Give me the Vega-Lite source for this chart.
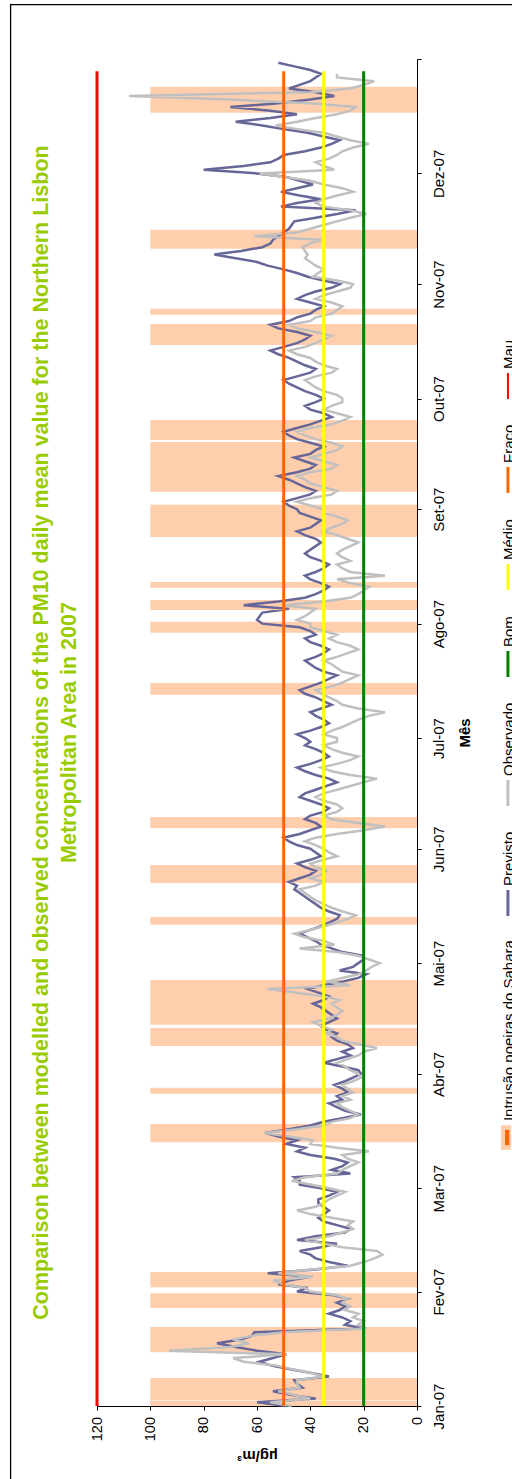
{
"$schema": "https://vega.github.io/schema/vega-lite/v6.json",
"width": 320, "height": 1347,
"autosize": {"type": "none"},
"padding": {"left": 97, "top": 59, "right": 95, "bottom": 73},
"background": "white",
"title": {"text": ["Comparison between modelled and observed concentrations of the PM10 daily mean value for the  Northern Lisbon", "Metropolitan Area in 2007"], "orient": "left", "anchor": "middle", "frame": "group", "offset": -71, "font": "Liberation Sans", "fontSize": 21.5, "fontWeight": "bold", "color": "#99cc00", "lineHeight": 28},
"config": {"view": {"stroke": null}},
"resolve": {"axis": {"x": "independent", "y": "independent"}},
"datasets": {
"sahara": [
{"start":"2007-01-01T00:00:00Z","end":"2007-01-02T10:00:00Z","intrusao":100},
{"start":"2007-01-02T14:00:00Z","end":"2007-01-08T14:00:00Z","intrusao":100},
{"start":"2007-01-15T14:00:00Z","end":"2007-01-22T10:00:00Z","intrusao":100},
{"start":"2007-01-27T14:00:00Z","end":"2007-01-31T14:00:00Z","intrusao":100},
{"start":"2007-02-02T05:00:00Z","end":"2007-02-06T07:00:00Z","intrusao":100},
{"start":"2007-03-13T12:00:00Z","end":"2007-03-18T10:00:00Z","intrusao":100},
{"start":"2007-03-26T14:00:00Z","end":"2007-03-28T05:00:00Z","intrusao":100},
{"start":"2007-04-08T14:00:00Z","end":"2007-04-13T10:00:00Z","intrusao":100},
{"start":"2007-04-14T07:00:00Z","end":"2007-04-26T10:00:00Z","intrusao":100},
{"start":"2007-05-11T10:00:00Z","end":"2007-05-13T12:00:00Z","intrusao":100},
{"start":"2007-05-22T17:00:00Z","end":"2007-05-27T14:00:00Z","intrusao":100},
{"start":"2007-06-06T14:00:00Z","end":"2007-06-09T14:00:00Z","intrusao":100},
{"start":"2007-07-12T17:00:00Z","end":"2007-07-15T22:00:00Z","intrusao":100},
{"start":"2007-07-29T12:00:00Z","end":"2007-08-01T12:00:00Z","intrusao":100},
{"start":"2007-08-04T17:00:00Z","end":"2007-08-07T10:00:00Z","intrusao":100},
{"start":"2007-08-10T17:00:00Z","end":"2007-08-12T07:00:00Z","intrusao":100},
{"start":"2007-08-24T12:00:00Z","end":"2007-09-02T05:00:00Z","intrusao":100},
{"start":"2007-09-05T17:00:00Z","end":"2007-09-19T05:00:00Z","intrusao":100},
{"start":"2007-09-19T19:00:00Z","end":"2007-09-25T05:00:00Z","intrusao":100},
{"start":"2007-10-15T12:00:00Z","end":"2007-10-21T05:00:00Z","intrusao":100},
{"start":"2007-10-23T17:00:00Z","end":"2007-10-25T07:00:00Z","intrusao":100},
{"start":"2007-11-10T14:00:00Z","end":"2007-11-15T17:00:00Z","intrusao":100},
{"start":"2007-12-17T10:00:00Z","end":"2007-12-24T12:00:00Z","intrusao":100}
],
"limiares": [
{"nivel":"Bom","valor":20,"inicio":"2007-01-01T00:00:00Z","fim":"2007-12-28T17:00:00Z"},
{"nivel":"Médio","valor":35,"inicio":"2007-01-01T00:00:00Z","fim":"2007-12-28T17:00:00Z"},
{"nivel":"Fraco","valor":50,"inicio":"2007-01-01T00:00:00Z","fim":"2007-12-28T17:00:00Z"},
{"nivel":"Mau","valor":120,"inicio":"2007-01-01T00:00:00Z","fim":"2007-12-28T17:00:00Z"}
],
"pm10": [
{"date":"2007-01-01","previsto":49,"observado":47},{"date":"2007-01-02","previsto":60,"observado":55},{"date":"2007-01-03","previsto":38,"observado":40},{"date":"2007-01-04","previsto":47,"observado":46},{"date":"2007-01-05","previsto":54,"observado":52},{"date":"2007-01-06","previsto":43,"observado":44},{"date":"2007-01-07","previsto":45,"observado":45},{"date":"2007-01-08","previsto":46,"observado":45},{"date":"2007-01-09","previsto":33,"observado":35},{"date":"2007-01-10","previsto":40,"observado":40},{"date":"2007-01-11","previsto":48,"observado":47},{"date":"2007-01-12","previsto":55,"observado":53},{"date":"2007-01-13","previsto":59,"observado":65},{"date":"2007-01-14","previsto":54,"observado":69},{"date":"2007-01-15","previsto":49,"observado":49},{"date":"2007-01-16","previsto":60,"observado":93},{"date":"2007-01-17","previsto":68,"observado":70},{"date":"2007-01-18","previsto":75,"observado":63},{"date":"2007-01-19","previsto":66,"observado":69},{"date":"2007-01-20","previsto":62,"observado":62},{"date":"2007-01-21","previsto":61,"observado":50},{"date":"2007-01-22","previsto":20,"observado":19},{"date":"2007-01-23","previsto":27,"observado":22},{"date":"2007-01-24","previsto":25,"observado":20},{"date":"2007-01-25","previsto":28,"observado":24},{"date":"2007-01-26","previsto":33,"observado":22},{"date":"2007-01-27","previsto":29,"observado":27},{"date":"2007-01-28","previsto":27,"observado":25},{"date":"2007-01-29","previsto":30,"observado":28},{"date":"2007-01-30","previsto":26,"observado":26},{"date":"2007-01-31","previsto":31,"observado":30},
{"date":"2007-02-01","previsto":45,"observado":40},{"date":"2007-02-02","previsto":41,"observado":42},{"date":"2007-02-03","previsto":52,"observado":50},{"date":"2007-02-04","previsto":48,"observado":54},{"date":"2007-02-05","previsto":40,"observado":39},{"date":"2007-02-06","previsto":56,"observado":52},{"date":"2007-02-07","previsto":38,"observado":40},{"date":"2007-02-08","previsto":26,"observado":25},{"date":"2007-02-09","previsto":33,"observado":20},{"date":"2007-02-10","previsto":38,"observado":16},{"date":"2007-02-11","previsto":40,"observado":13},{"date":"2007-02-12","previsto":44,"observado":15},{"date":"2007-02-13","previsto":36,"observado":28},{"date":"2007-02-14","previsto":30,"observado":35},{"date":"2007-02-15","previsto":45,"observado":42},{"date":"2007-02-16","previsto":38,"observado":33},{"date":"2007-02-17","previsto":27,"observado":28},{"date":"2007-02-18","previsto":25,"observado":24},{"date":"2007-02-19","previsto":30,"observado":26},{"date":"2007-02-20","previsto":35,"observado":24},{"date":"2007-02-21","previsto":37,"observado":32},{"date":"2007-02-22","previsto":35,"observado":40},{"date":"2007-02-23","previsto":33,"observado":45},{"date":"2007-02-24","previsto":35,"observado":38},{"date":"2007-02-25","previsto":37,"observado":35},{"date":"2007-02-26","previsto":37,"observado":33},{"date":"2007-02-27","previsto":33,"observado":30},{"date":"2007-02-28","previsto":30,"observado":27},
{"date":"2007-03-01","previsto":36,"observado":33},{"date":"2007-03-02","previsto":44,"observado":40},{"date":"2007-03-03","previsto":44,"observado":47},{"date":"2007-03-04","previsto":46,"observado":42},{"date":"2007-03-05","previsto":25,"observado":30},{"date":"2007-03-06","previsto":32,"observado":28},{"date":"2007-03-07","previsto":28,"observado":25},{"date":"2007-03-08","previsto":26,"observado":22},{"date":"2007-03-09","previsto":31,"observado":26},{"date":"2007-03-10","previsto":40,"observado":28},{"date":"2007-03-11","previsto":45,"observado":18},{"date":"2007-03-12","previsto":42,"observado":30},{"date":"2007-03-13","previsto":49,"observado":40},{"date":"2007-03-14","previsto":45,"observado":39},{"date":"2007-03-15","previsto":52,"observado":48},{"date":"2007-03-16","previsto":57,"observado":57},{"date":"2007-03-17","previsto":48,"observado":45},{"date":"2007-03-18","previsto":40,"observado":35},{"date":"2007-03-19","previsto":35,"observado":32},{"date":"2007-03-20","previsto":28,"observado":25},{"date":"2007-03-21","previsto":21,"observado":22},{"date":"2007-03-22","previsto":27,"observado":25},{"date":"2007-03-23","previsto":30,"observado":28},{"date":"2007-03-24","previsto":33,"observado":30},{"date":"2007-03-25","previsto":28,"observado":25},{"date":"2007-03-26","previsto":30,"observado":28},{"date":"2007-03-27","previsto":26,"observado":24},{"date":"2007-03-28","previsto":28,"observado":26},{"date":"2007-03-29","previsto":31,"observado":28},{"date":"2007-03-30","previsto":27,"observado":24},{"date":"2007-03-31","previsto":24,"observado":21},
{"date":"2007-04-01","previsto":21,"observado":22},{"date":"2007-04-02","previsto":22,"observado":25},{"date":"2007-04-03","previsto":28,"observado":27},{"date":"2007-04-04","previsto":35,"observado":30},{"date":"2007-04-05","previsto":30,"observado":26},{"date":"2007-04-06","previsto":25,"observado":22},{"date":"2007-04-07","previsto":28,"observado":20},{"date":"2007-04-08","previsto":24,"observado":15},{"date":"2007-04-09","previsto":26,"observado":22},{"date":"2007-04-10","previsto":30,"observado":28},{"date":"2007-04-11","previsto":32,"observado":30},{"date":"2007-04-12","previsto":30,"observado":34},{"date":"2007-04-13","previsto":34,"observado":32},{"date":"2007-04-14","previsto":36,"observado":36},{"date":"2007-04-15","previsto":33,"observado":39},{"date":"2007-04-16","previsto":30,"observado":33},{"date":"2007-04-17","previsto":32,"observado":30},{"date":"2007-04-18","previsto":34,"observado":28},{"date":"2007-04-19","previsto":36,"observado":30},{"date":"2007-04-20","previsto":39,"observado":32},{"date":"2007-04-21","previsto":35,"observado":29},{"date":"2007-04-22","previsto":33,"observado":35},{"date":"2007-04-23","previsto":37,"observado":45},{"date":"2007-04-24","previsto":41,"observado":56},{"date":"2007-04-25","previsto":35,"observado":25},{"date":"2007-04-26","previsto":28,"observado":34},{"date":"2007-04-27","previsto":22,"observado":28},{"date":"2007-04-28","previsto":19,"observado":22},{"date":"2007-04-29","previsto":29,"observado":19},{"date":"2007-04-30","previsto":24,"observado":17},
{"date":"2007-05-01","previsto":22,"observado":14},{"date":"2007-05-02","previsto":20,"observado":18},{"date":"2007-05-03","previsto":20,"observado":22},{"date":"2007-05-04","previsto":28,"observado":30},{"date":"2007-05-05","previsto":32,"observado":44},{"date":"2007-05-06","previsto":36,"observado":31},{"date":"2007-05-07","previsto":38,"observado":35},{"date":"2007-05-08","previsto":41,"observado":42},{"date":"2007-05-09","previsto":44,"observado":46},{"date":"2007-05-10","previsto":40,"observado":40},{"date":"2007-05-11","previsto":36,"observado":35},{"date":"2007-05-12","previsto":33,"observado":30},{"date":"2007-05-13","previsto":30,"observado":26},{"date":"2007-05-14","previsto":29,"observado":23},{"date":"2007-05-15","previsto":33,"observado":28},{"date":"2007-05-16","previsto":36,"observado":32},{"date":"2007-05-17","previsto":38,"observado":35},{"date":"2007-05-18","previsto":40,"observado":38},{"date":"2007-05-19","previsto":42,"observado":40},{"date":"2007-05-20","previsto":44,"observado":42},{"date":"2007-05-21","previsto":46,"observado":44},{"date":"2007-05-22","previsto":45,"observado":38},{"date":"2007-05-23","previsto":48,"observado":35},{"date":"2007-05-24","previsto":44,"observado":40},{"date":"2007-05-25","previsto":40,"observado":36},{"date":"2007-05-26","previsto":38,"observado":34},{"date":"2007-05-27","previsto":42,"observado":38},{"date":"2007-05-28","previsto":45,"observado":40},{"date":"2007-05-29","previsto":40,"observado":35},{"date":"2007-05-30","previsto":36,"observado":30},{"date":"2007-05-31","previsto":38,"observado":33},
{"date":"2007-06-01","previsto":40,"observado":35},{"date":"2007-06-02","previsto":45,"observado":38},{"date":"2007-06-03","previsto":48,"observado":42},{"date":"2007-06-04","previsto":50,"observado":38},{"date":"2007-06-05","previsto":44,"observado":30},{"date":"2007-06-06","previsto":40,"observado":20},{"date":"2007-06-07","previsto":36,"observado":12},{"date":"2007-06-08","previsto":38,"observado":22},{"date":"2007-06-09","previsto":42,"observado":32},{"date":"2007-06-10","previsto":40,"observado":35},{"date":"2007-06-11","previsto":35,"observado":30},{"date":"2007-06-12","previsto":33,"observado":28},{"date":"2007-06-13","previsto":36,"observado":30},{"date":"2007-06-14","previsto":40,"observado":35},{"date":"2007-06-15","previsto":44,"observado":38},{"date":"2007-06-16","previsto":42,"observado":35},{"date":"2007-06-17","previsto":38,"observado":30},{"date":"2007-06-18","previsto":34,"observado":25},{"date":"2007-06-19","previsto":30,"observado":20},{"date":"2007-06-20","previsto":33,"observado":15},{"date":"2007-06-21","previsto":38,"observado":25},{"date":"2007-06-22","previsto":42,"observado":32},{"date":"2007-06-23","previsto":45,"observado":36},{"date":"2007-06-24","previsto":40,"observado":30},{"date":"2007-06-25","previsto":36,"observado":25},{"date":"2007-06-26","previsto":33,"observado":22},{"date":"2007-06-27","previsto":35,"observado":28},{"date":"2007-06-28","previsto":38,"observado":32},{"date":"2007-06-29","previsto":42,"observado":35},{"date":"2007-06-30","previsto":40,"observado":30},
{"date":"2007-07-01","previsto":42,"observado":30},{"date":"2007-07-02","previsto":45,"observado":35},{"date":"2007-07-03","previsto":40,"observado":32},{"date":"2007-07-04","previsto":36,"observado":28},{"date":"2007-07-05","previsto":33,"observado":25},{"date":"2007-07-06","previsto":35,"observado":22},{"date":"2007-07-07","previsto":38,"observado":18},{"date":"2007-07-08","previsto":40,"observado":12},{"date":"2007-07-09","previsto":36,"observado":22},{"date":"2007-07-10","previsto":32,"observado":28},{"date":"2007-07-11","previsto":35,"observado":30},{"date":"2007-07-12","previsto":38,"observado":33},{"date":"2007-07-13","previsto":42,"observado":36},{"date":"2007-07-14","previsto":44,"observado":38},{"date":"2007-07-15","previsto":40,"observado":32},{"date":"2007-07-16","previsto":36,"observado":28},{"date":"2007-07-17","previsto":33,"observado":25},{"date":"2007-07-18","previsto":30,"observado":22},{"date":"2007-07-19","previsto":35,"observado":28},{"date":"2007-07-20","previsto":38,"observado":30},{"date":"2007-07-21","previsto":40,"observado":32},{"date":"2007-07-22","previsto":42,"observado":35},{"date":"2007-07-23","previsto":38,"observado":30},{"date":"2007-07-24","previsto":35,"observado":26},{"date":"2007-07-25","previsto":33,"observado":22},{"date":"2007-07-26","previsto":36,"observado":25},{"date":"2007-07-27","previsto":40,"observado":30},{"date":"2007-07-28","previsto":42,"observado":33},{"date":"2007-07-29","previsto":38,"observado":30},{"date":"2007-07-30","previsto":40,"observado":35},{"date":"2007-07-31","previsto":44,"observado":40},
{"date":"2007-08-01","previsto":58,"observado":40},{"date":"2007-08-02","previsto":60,"observado":45},{"date":"2007-08-03","previsto":59,"observado":42},{"date":"2007-08-04","previsto":58,"observado":40},{"date":"2007-08-05","previsto":48,"observado":38},{"date":"2007-08-06","previsto":65,"observado":50},{"date":"2007-08-07","previsto":52,"observado":35},{"date":"2007-08-08","previsto":42,"observado":25},{"date":"2007-08-09","previsto":38,"observado":22},{"date":"2007-08-10","previsto":35,"observado":20},{"date":"2007-08-11","previsto":33,"observado":18},{"date":"2007-08-12","previsto":36,"observado":25},{"date":"2007-08-13","previsto":40,"observado":30},{"date":"2007-08-14","previsto":42,"observado":12},{"date":"2007-08-15","previsto":38,"observado":25},{"date":"2007-08-16","previsto":35,"observado":28},{"date":"2007-08-17","previsto":33,"observado":30},{"date":"2007-08-18","previsto":36,"observado":25},{"date":"2007-08-19","previsto":40,"observado":28},{"date":"2007-08-20","previsto":42,"observado":30},{"date":"2007-08-21","previsto":40,"observado":28},{"date":"2007-08-22","previsto":38,"observado":25},{"date":"2007-08-23","previsto":36,"observado":22},{"date":"2007-08-24","previsto":38,"observado":26},{"date":"2007-08-25","previsto":42,"observado":30},{"date":"2007-08-26","previsto":45,"observado":35},{"date":"2007-08-27","previsto":40,"observado":32},{"date":"2007-08-28","previsto":38,"observado":28},{"date":"2007-08-29","previsto":36,"observado":26},{"date":"2007-08-30","previsto":40,"observado":30},{"date":"2007-08-31","previsto":44,"observado":35},
{"date":"2007-09-01","previsto":45,"observado":35},{"date":"2007-09-02","previsto":48,"observado":40},{"date":"2007-09-03","previsto":50,"observado":45},{"date":"2007-09-04","previsto":45,"observado":40},{"date":"2007-09-05","previsto":40,"observado":32},{"date":"2007-09-06","previsto":38,"observado":30},{"date":"2007-09-07","previsto":42,"observado":35},{"date":"2007-09-08","previsto":45,"observado":40},{"date":"2007-09-09","previsto":48,"observado":42},{"date":"2007-09-10","previsto":52,"observado":45},{"date":"2007-09-11","previsto":45,"observado":40},{"date":"2007-09-12","previsto":40,"observado":32},{"date":"2007-09-13","previsto":38,"observado":30},{"date":"2007-09-14","previsto":42,"observado":35},{"date":"2007-09-15","previsto":46,"observado":40},{"date":"2007-09-16","previsto":40,"observado":35},{"date":"2007-09-17","previsto":38,"observado":30},{"date":"2007-09-18","previsto":35,"observado":28},{"date":"2007-09-19","previsto":40,"observado":32},{"date":"2007-09-20","previsto":45,"observado":38},{"date":"2007-09-21","previsto":48,"observado":42},{"date":"2007-09-22","previsto":50,"observado":45},{"date":"2007-09-23","previsto":45,"observado":40},{"date":"2007-09-24","previsto":40,"observado":32},{"date":"2007-09-25","previsto":36,"observado":28},{"date":"2007-09-26","previsto":32,"observado":25},{"date":"2007-09-27","previsto":35,"observado":30},{"date":"2007-09-28","previsto":40,"observado":35},{"date":"2007-09-29","previsto":42,"observado":32},{"date":"2007-09-30","previsto":38,"observado":28},
{"date":"2007-10-01","previsto":35,"observado":28},{"date":"2007-10-02","previsto":38,"observado":30},{"date":"2007-10-03","previsto":42,"observado":35},{"date":"2007-10-04","previsto":45,"observado":38},{"date":"2007-10-05","previsto":48,"observado":40},{"date":"2007-10-06","previsto":50,"observado":42},{"date":"2007-10-07","previsto":45,"observado":38},{"date":"2007-10-08","previsto":40,"observado":32},{"date":"2007-10-09","previsto":38,"observado":30},{"date":"2007-10-10","previsto":42,"observado":35},{"date":"2007-10-11","previsto":45,"observado":38},{"date":"2007-10-12","previsto":48,"observado":40},{"date":"2007-10-13","previsto":52,"observado":45},{"date":"2007-10-14","previsto":55,"observado":48},{"date":"2007-10-15","previsto":50,"observado":42},{"date":"2007-10-16","previsto":45,"observado":38},{"date":"2007-10-17","previsto":42,"observado":35},{"date":"2007-10-18","previsto":40,"observado":32},{"date":"2007-10-19","previsto":45,"observado":38},{"date":"2007-10-20","previsto":52,"observado":45},{"date":"2007-10-21","previsto":55,"observado":48},{"date":"2007-10-22","previsto":48,"observado":40},{"date":"2007-10-23","previsto":45,"observado":38},{"date":"2007-10-24","previsto":40,"observado":32},{"date":"2007-10-25","previsto":38,"observado":30},{"date":"2007-10-26","previsto":35,"observado":28},{"date":"2007-10-27","previsto":40,"observado":32},{"date":"2007-10-28","previsto":45,"observado":38},{"date":"2007-10-29","previsto":42,"observado":35},{"date":"2007-10-30","previsto":38,"observado":30},{"date":"2007-10-31","previsto":32,"observado":25},
{"date":"2007-11-01","previsto":29,"observado":24},{"date":"2007-11-02","previsto":35,"observado":30},{"date":"2007-11-03","previsto":41,"observado":39},{"date":"2007-11-04","previsto":45,"observado":37},{"date":"2007-11-05","previsto":50,"observado":35},{"date":"2007-11-06","previsto":56,"observado":38},{"date":"2007-11-07","previsto":60,"observado":40},{"date":"2007-11-08","previsto":68,"observado":42},{"date":"2007-11-09","previsto":76,"observado":41},{"date":"2007-11-10","previsto":66,"observado":42},{"date":"2007-11-11","previsto":58,"observado":43},{"date":"2007-11-12","previsto":55,"observado":40},{"date":"2007-11-13","previsto":54,"observado":36},{"date":"2007-11-14","previsto":52,"observado":61},{"date":"2007-11-15","previsto":50,"observado":45},{"date":"2007-11-16","previsto":48,"observado":40},{"date":"2007-11-17","previsto":47,"observado":35},{"date":"2007-11-18","previsto":46,"observado":30},{"date":"2007-11-19","previsto":38,"observado":25},{"date":"2007-11-20","previsto":30,"observado":19},{"date":"2007-11-21","previsto":23,"observado":25},{"date":"2007-11-22","previsto":51,"observado":35},{"date":"2007-11-23","previsto":45,"observado":38},{"date":"2007-11-24","previsto":36,"observado":35},{"date":"2007-11-25","previsto":44,"observado":30},{"date":"2007-11-26","previsto":51,"observado":24},{"date":"2007-11-27","previsto":45,"observado":28},{"date":"2007-11-28","previsto":39,"observado":35},{"date":"2007-11-29","previsto":44,"observado":40},{"date":"2007-11-30","previsto":49,"observado":50},
{"date":"2007-12-01","previsto":60,"observado":59},{"date":"2007-12-02","previsto":80,"observado":31},{"date":"2007-12-03","previsto":65,"observado":35},{"date":"2007-12-04","previsto":55,"observado":38},{"date":"2007-12-05","previsto":52,"observado":33},{"date":"2007-12-06","previsto":50,"observado":30},{"date":"2007-12-07","previsto":42,"observado":28},{"date":"2007-12-08","previsto":36,"observado":24},{"date":"2007-12-09","previsto":32,"observado":18},{"date":"2007-12-10","previsto":29,"observado":25},{"date":"2007-12-11","previsto":35,"observado":30},{"date":"2007-12-12","previsto":41,"observado":35},{"date":"2007-12-13","previsto":50,"observado":45},{"date":"2007-12-14","previsto":58,"observado":53},{"date":"2007-12-15","previsto":68,"observado":45},{"date":"2007-12-16","previsto":55,"observado":38},{"date":"2007-12-17","previsto":45,"observado":30},{"date":"2007-12-18","previsto":55,"observado":25},{"date":"2007-12-19","previsto":70,"observado":23},{"date":"2007-12-20","previsto":52,"observado":40},{"date":"2007-12-21","previsto":40,"observado":70},{"date":"2007-12-22","previsto":31,"observado":108},{"date":"2007-12-23","previsto":38,"observado":40},{"date":"2007-12-24","previsto":48,"observado":25},{"date":"2007-12-25","previsto":44,"observado":20},{"date":"2007-12-26","previsto":40,"observado":16},{"date":"2007-12-27","previsto":38,"observado":30},{"date":"2007-12-28","previsto":36,"observado":30},{"date":"2007-12-29","previsto":40,"observado":null},{"date":"2007-12-30","previsto":46,"observado":null},{"date":"2007-12-31","previsto":52,"observado":null}
]
},
"layer": [
{"data": {"name": "sahara"},
 "mark": {"type": "rect", "fill": "#ff6600", "fillOpacity": 0.32},
 "encoding": {
  "x": {"field": "intrusao", "type": "quantitative", "scale": {"domain": [0, 120], "reverse": true, "nice": false, "zero": true},
        "axis": {"orient": "bottom", "values": [0, 20, 40, 60, 80, 100, 120], "grid": false, "domainColor": "black", "tickColor": "black", "labelColor": "black", "labelFont": "Liberation Sans", "labelAngle": 270, "labelAlign": "right", "labelBaseline": "middle", "labelFontSize": 14.5, "labelPadding": 6.5, "labelFlush": false, "labelOverlap": false, "tickSize": 4, "title": "µg/m³", "titleColor": "black", "titleFont": "Liberation Sans", "titleAngle": 180, "titleBaseline": "bottom", "titleAlign": "center", "titleFontSize": 15, "titleFontWeight": "bold", "titlePadding": 7}},
  "x2": {"datum": 0},
  "y": {"field": "start", "type": "temporal", "scale": {"type": "utc", "domain": [{"year": 2007, "month": 1, "date": 1, "utc": true}, {"year": 2008, "month": 1, "date": 1, "utc": true}], "nice": false},
        "axis": {"orient": "right", "tickCount": "month", "grid": false, "domainColor": "black", "tickColor": "black", "labelColor": "black", "labelFont": "Liberation Sans",
                 "labelExpr": "utcyear(datum.value) > 2007 ? '' : (utcmonth(datum.value) == 0 ? 'Jan' : utcmonth(datum.value) == 1 ? 'Fev' : utcmonth(datum.value) == 2 ? 'Mar' : utcmonth(datum.value) == 3 ? 'Abr' : utcmonth(datum.value) == 4 ? 'Mai' : utcmonth(datum.value) == 5 ? 'Jun' : utcmonth(datum.value) == 6 ? 'Jul' : utcmonth(datum.value) == 7 ? 'Ago' : utcmonth(datum.value) == 8 ? 'Set' : utcmonth(datum.value) == 9 ? 'Out' : utcmonth(datum.value) == 10 ? 'Nov' : 'Dez') + '-07'",
                 "labelAngle": 270, "labelAlign": "center", "labelBaseline": "top", "labelFontSize": 15, "labelPadding": 10, "labelFlush": false, "labelOverlap": false, "tickSize": 4,
                 "title": "Mês", "titleColor": "black", "titleFont": "Liberation Sans", "titleAngle": 270, "titleBaseline": "top", "titleAlign": "center", "titleFontSize": 15, "titleFontWeight": "bold", "titlePadding": 11}},
  "y2": {"field": "end"}
 }},
{"data": {"name": "pm10"},
 "mark": {"type": "line", "stroke": "#666699", "strokeWidth": 2.5},
 "encoding": {
  "x": {"field": "previsto", "type": "quantitative", "axis": null},
  "y": {"field": "date", "type": "temporal", "axis": null},
  "order": {"field": "date", "type": "temporal"}
 }},
{"data": {"name": "pm10"},
 "mark": {"type": "line", "stroke": "#c0c0c0", "strokeWidth": 2.5},
 "encoding": {
  "x": {"field": "observado", "type": "quantitative", "axis": null},
  "y": {"field": "date", "type": "temporal", "axis": null},
  "order": {"field": "date", "type": "temporal"}
 }},
{"data": {"name": "limiares"},
 "mark": {"type": "rule"},
 "encoding": {
  "x": {"field": "valor", "type": "quantitative", "axis": null},
  "y": {"field": "inicio", "type": "temporal", "axis": null},
  "y2": {"field": "fim"},
  "color": {"field": "nivel", "type": "nominal", "scale": {"domain": ["Bom", "Médio", "Fraco", "Mau"], "range": ["#008000", "#ffff00", "#ff6600", "#ff0000"]}, "legend": null},
  "strokeWidth": {"field": "nivel", "type": "ordinal", "scale": {"domain": ["Bom", "Médio", "Fraco", "Mau"], "range": [3, 3, 3, 2]}, "legend": null}
 }},
{"data": {"values": [{}]},
 "mark": {"type": "rect", "fill": "#ff6600", "fillOpacity": 0.32},
 "encoding": {"x": {"datum": -31.5, "axis": null}, "x2": {"datum": -35.3}, "y": {"datum": {"year": 2007, "month": 3, "date": 11, "hours": 10, "utc": true}, "axis": null}, "y2": {"datum": {"year": 2007, "month": 3, "date": 18, "hours": 2, "utc": true}}}},
{"data": {"values": [{}]},
 "mark": {"type": "rect", "fill": "#ff6600"},
 "encoding": {"x": {"datum": -33, "axis": null}, "x2": {"datum": -34.6}, "y": {"datum": {"year": 2007, "month": 3, "date": 12, "hours": 16, "utc": true}, "axis": null}, "y2": {"datum": {"year": 2007, "month": 3, "date": 16, "hours": 20, "utc": true}}}},
{"data": {"values": [{}]},
 "mark": {"type": "text", "angle": 270, "align": "left", "baseline": "alphabetic", "font": "Liberation Sans", "fontSize": 15, "color": "black"},
 "encoding": {"x": {"datum": -36.2, "axis": null}, "y": {"datum": {"year": 2007, "month": 3, "date": 19, "hours": 5, "utc": true}, "axis": null}, "text": {"value": "Intrusão poeiras do Sahara"}}},
{"data": {"values": [{}]},
 "mark": {"type": "rule", "color": "#666699", "strokeWidth": 3},
 "encoding": {"x": {"datum": -34.1, "axis": null}, "y": {"datum": {"year": 2007, "month": 5, "date": 13, "hours": 19, "utc": true}, "axis": null}, "y2": {"datum": {"year": 2007, "month": 5, "date": 20, "hours": 20, "utc": true}}}},
{"data": {"values": [{}]},
 "mark": {"type": "text", "angle": 270, "align": "left", "baseline": "alphabetic", "font": "Liberation Sans", "fontSize": 15, "color": "black"},
 "encoding": {"x": {"datum": -36.2, "axis": null}, "y": {"datum": {"year": 2007, "month": 5, "date": 21, "hours": 22, "utc": true}, "axis": null}, "text": {"value": "Previsto"}}},
{"data": {"values": [{}]},
 "mark": {"type": "rule", "color": "#c0c0c0", "strokeWidth": 3},
 "encoding": {"x": {"datum": -34.1, "axis": null}, "y": {"datum": {"year": 2007, "month": 6, "date": 12, "hours": 14, "utc": true}, "axis": null}, "y2": {"datum": {"year": 2007, "month": 6, "date": 19, "hours": 15, "utc": true}}}},
{"data": {"values": [{}]},
 "mark": {"type": "text", "angle": 270, "align": "left", "baseline": "alphabetic", "font": "Liberation Sans", "fontSize": 15, "color": "black"},
 "encoding": {"x": {"datum": -36.2, "axis": null}, "y": {"datum": {"year": 2007, "month": 6, "date": 20, "hours": 17, "utc": true}, "axis": null}, "text": {"value": "Observado"}}},
{"data": {"values": [{}]},
 "mark": {"type": "rule", "color": "#008000", "strokeWidth": 3},
 "encoding": {"x": {"datum": -34.1, "axis": null}, "y": {"datum": {"year": 2007, "month": 7, "date": 17, "hours": 13, "utc": true}, "axis": null}, "y2": {"datum": {"year": 2007, "month": 7, "date": 24, "hours": 14, "utc": true}}}},
{"data": {"values": [{}]},
 "mark": {"type": "text", "angle": 270, "align": "left", "baseline": "alphabetic", "font": "Liberation Sans", "fontSize": 15, "color": "black"},
 "encoding": {"x": {"datum": -36.2, "axis": null}, "y": {"datum": {"year": 2007, "month": 7, "date": 25, "hours": 16, "utc": true}, "axis": null}, "text": {"value": "Bom"}}},
{"data": {"values": [{}]},
 "mark": {"type": "rule", "color": "#ffff00", "strokeWidth": 3},
 "encoding": {"x": {"datum": -34.1, "axis": null}, "y": {"datum": {"year": 2007, "month": 8, "date": 10, "hours": 3, "utc": true}, "axis": null}, "y2": {"datum": {"year": 2007, "month": 8, "date": 17, "hours": 4, "utc": true}}}},
{"data": {"values": [{}]},
 "mark": {"type": "text", "angle": 270, "align": "left", "baseline": "alphabetic", "font": "Liberation Sans", "fontSize": 15, "color": "black"},
 "encoding": {"x": {"datum": -36.2, "axis": null}, "y": {"datum": {"year": 2007, "month": 8, "date": 18, "hours": 6, "utc": true}, "axis": null}, "text": {"value": "Médio"}}},
{"data": {"values": [{}]},
 "mark": {"type": "rule", "color": "#ff6600", "strokeWidth": 3},
 "encoding": {"x": {"datum": -34.1, "axis": null}, "y": {"datum": {"year": 2007, "month": 9, "date": 5, "hours": 10, "utc": true}, "axis": null}, "y2": {"datum": {"year": 2007, "month": 9, "date": 12, "hours": 11, "utc": true}}}},
{"data": {"values": [{}]},
 "mark": {"type": "text", "angle": 270, "align": "left", "baseline": "alphabetic", "font": "Liberation Sans", "fontSize": 15, "color": "black"},
 "encoding": {"x": {"datum": -36.2, "axis": null}, "y": {"datum": {"year": 2007, "month": 9, "date": 13, "hours": 13, "utc": true}, "axis": null}, "text": {"value": "Fraco"}}},
{"data": {"values": [{}]},
 "mark": {"type": "rule", "color": "#ff0000", "strokeWidth": 2},
 "encoding": {"x": {"datum": -34.1, "axis": null}, "y": {"datum": {"year": 2007, "month": 9, "date": 30, "hours": 21, "utc": true}, "axis": null}, "y2": {"datum": {"year": 2007, "month": 10, "date": 7, "hours": 22, "utc": true}}}},
{"data": {"values": [{}]},
 "mark": {"type": "text", "angle": 270, "align": "left", "baseline": "alphabetic", "font": "Liberation Sans", "fontSize": 15, "color": "black"},
 "encoding": {"x": {"datum": -36.2, "axis": null}, "y": {"datum": {"year": 2007, "month": 10, "date": 9, "utc": true}, "axis": null}, "text": {"value": "Mau"}}},
{"data": {"values": [{}]},
 "mark": {"type": "rect", "filled": false, "color": "black", "strokeWidth": 1.3},
 "encoding": {"x": {"datum": 152.4, "axis": null}, "x2": {"datum": -45}, "y": {"datum": {"year": 2008, "month": 1, "date": 15, "hours": 17, "utc": true}, "axis": null}, "y2": {"datum": {"year": 2006, "month": 12, "date": 7, "utc": true}}}}
]
}
